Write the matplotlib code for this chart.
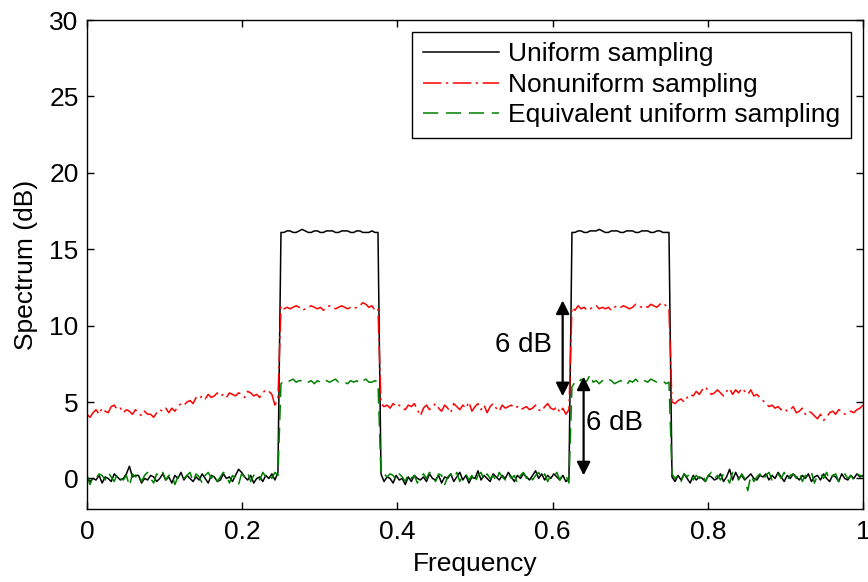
import numpy as np
import matplotlib
matplotlib.use('Agg')
from matplotlib import pyplot as plt

plt.rcParams['font.family'] = ['Liberation Sans', 'DejaVu Sans']
plt.rcParams['font.size'] = 19

# frequency grid (257 bins over [0, 1])
freq = np.arange(257) / 256

uniform = [
    0.1, -0.2, 0.0, -0.1, 0.2, -0.3, 0.1, 0.0, -0.2, 0.3, 0.1, -0.1, 0.0, 0.3, 0.8, 0.1,
    0.2, 0.2, -0.3, 0.0, -0.1, 0.2, 0.1, -0.2, 0.0, 0.3, -0.1, 0.1, -0.3, 0.2, 0.0, 0.4,
    -0.1, 0.2, 0.0, -0.2, 0.1, -0.1, 0.3, 0.0, -0.3, 0.2, 0.1, -0.2, -0.1, 0.3, 0.0, 0.1,
    -0.2, 0.2, 0.6, 0.4, 0.1, -0.1, 0.2, -0.3, 0.0, 0.1, -0.2, 0.2, 0.0, 0.3, -0.1, 0.4,
    16.1, 16.1, 16.2, 16.2, 16.1, 16.1, 16.2, 16.3, 16.2, 16.1, 16.1, 16.2, 16.2, 16.1, 16.1, 16.2,
    16.2, 16.2, 16.1, 16.1, 16.2, 16.2, 16.2, 16.1, 16.1, 16.2, 16.2, 16.1, 16.1, 16.1, 16.2, 16.1,
    16.1, 0.3, -0.2, 0.1, 0.0, -0.3, 0.2, -0.1, 0.0, -0.4, 0.1, -0.2, 0.2, 0.0, -0.1, 0.1,
    -0.2, 0.3, 0.0, -0.1, 0.2, -0.3, 0.1, 0.0, 0.3, -0.2, 0.1, 0.4, -0.1, 0.2, -0.3, 0.1,
    0.0, 0.5, -0.1, 0.2, 0.0, -0.2, 0.3, 0.1, -0.1, 0.2, 0.0, 0.4, 0.1, -0.2, 0.2, 0.0,
    0.3, 0.1, -0.1, 0.2, 0.5, 0.0, 0.3, -0.1, 0.2, 0.0, 0.3, 0.1, -0.1, 0.2, -0.2, 0.0,
    16.1, 16.1, 16.2, 16.2, 16.1, 16.1, 16.2, 16.2, 16.2, 16.3, 16.2, 16.1, 16.1, 16.2, 16.2, 16.2,
    16.1, 16.1, 16.2, 16.2, 16.2, 16.1, 16.1, 16.2, 16.2, 16.2, 16.1, 16.1, 16.2, 16.2, 16.1, 16.1,
    16.1, 0.1, -0.2, 0.2, -0.1, 0.3, 0.0, -0.3, 0.2, -0.1, 0.1, 0.0, -0.2, 0.2, 0.1, -0.1,
    0.0, 0.3, -0.2, 0.1, 0.6, -0.1, 0.4, 0.0, 0.2, -0.1, 0.1, 0.3, 0.0, -0.1, 0.2, 0.1,
    0.3, -0.1, 0.2, 0.0, 0.4, 0.1, -0.2, 0.2, 0.0, 0.3, 0.1, -0.1, 0.2, 0.0, 0.3, -0.2,
    0.1, 0.2, -0.1, 0.3, 0.0, -0.2, 0.2, 0.1, -0.2, 0.3, 0.0, -0.1, 0.2, 0.0, 0.3, 0.1,
    0.2,
]

nonuniform = [
    4.2, 4.0, 4.3, 4.5, 4.2, 4.6, 4.4, 4.3, 4.7, 4.8, 4.5, 4.6, 4.3, 4.5, 4.4, 4.2,
    4.5, 4.3, 4.1, 4.4, 4.2, 4.2, 4.0, 4.3, 4.5, 4.4, 4.6, 4.3, 4.6, 4.4, 4.7, 4.9,
    4.8, 5.0, 5.1, 4.9, 5.3, 5.2, 5.4, 5.2, 5.5, 5.3, 5.4, 5.6, 5.4, 5.5, 5.3, 5.6,
    5.5, 5.4, 5.6, 5.5, 5.3, 5.7, 5.6, 5.4, 5.5, 5.3, 5.6, 5.8, 5.7, 5.5, 4.8, 5.2,
    11.3, 11.1, 11.2, 11.1, 11.2, 11.3, 11.2, 11.0, 11.1, 11.2, 11.3, 11.2, 11.1, 11.2, 11.0, 11.2,
    11.3, 11.2, 11.1, 11.2, 11.3, 11.2, 11.1, 11.2, 11.1, 11.2, 11.3, 11.5, 11.4, 11.2, 11.3, 11.0,
    11.1, 4.9, 4.7, 4.8, 4.6, 4.9, 4.7, 4.8, 4.6, 4.5, 4.8, 4.7, 4.9, 4.5, 4.1, 4.6,
    4.8, 4.5, 4.7, 4.9, 4.6, 4.4, 4.8, 4.6, 4.3, 4.9, 4.7, 4.5, 4.8, 4.6, 5.0, 4.4,
    4.7, 4.9, 4.5, 4.8, 4.3, 4.7, 4.9, 4.6, 4.4, 4.8, 4.6, 4.7, 4.8, 4.6, 4.7, 4.5,
    4.6, 4.7, 4.5, 4.6, 4.8, 4.5, 4.4, 4.7, 4.9, 4.6, 4.5, 4.7, 4.3, 4.6, 4.2, 4.5,
    11.2, 11.0, 11.3, 11.1, 11.2, 11.0, 11.1, 11.2, 11.3, 11.1, 11.2, 11.1, 11.2, 11.0, 11.2, 11.3,
    11.2, 11.3, 11.2, 11.1, 11.2, 11.4, 11.3, 11.2, 11.3, 11.2, 11.4, 11.3, 11.2, 11.4, 11.5, 11.3,
    11.1, 5.0, 4.9, 5.1, 5.2, 5.0, 5.3, 5.5, 5.4, 5.7, 5.5, 5.8, 6.0, 5.7, 5.5, 5.6,
    5.8, 5.6, 5.4, 5.7, 5.9, 5.5, 5.8, 5.6, 5.9, 5.7, 5.5, 5.8, 5.4, 5.5, 5.3, 5.1,
    4.9, 4.7, 4.8, 4.6, 4.7, 4.5, 4.6, 4.4, 4.5, 4.7, 4.3, 4.4, 4.6, 4.2, 4.4, 4.3,
    4.1, 3.9, 4.2, 3.8, 4.0, 4.3, 4.4, 4.2, 4.5, 4.4, 4.2, 4.3, 4.4, 4.3, 4.5, 4.6,
    4.8,
]

equivalent = [
    0.2, -0.4, 0.1, 0.0, 0.3, 0.2, -0.1, 0.4, 0.1, -0.2, 0.3, 0.0, -0.1, 0.2, -0.5, 0.3,
    0.1, 0.3, -0.2, 0.2, 0.4, 0.0, -0.3, 0.3, 0.1, 0.4, -0.1, 0.2, 0.3, -0.4, 0.1, 0.3,
    0.0, 0.2, 0.4, -0.2, 0.3, 0.1, -0.3, 0.2, 0.4, 0.0, 0.3, -0.2, 0.1, 0.4, 0.2, -0.3,
    0.2, 0.0, -0.4, 0.3, 0.1, 0.4, -0.2, 0.2, 0.3, -0.1, 0.4, 0.1, 0.3, 0.0, 0.4, 0.2,
    6.2, 6.4, 6.3, 6.4, 6.5, 6.3, 6.4, 6.4, 6.2, 6.3, 6.4, 6.2, 6.4, 6.3, 6.5, 6.4,
    6.3, 6.4, 6.5, 6.3, 6.4, 6.3, 6.2, 6.4, 6.3, 6.4, 6.2, 6.4, 6.5, 6.3, 6.3, 6.4,
    6.3, 0.2, 0.3, 0.1, 0.3, 0.2, -0.1, 0.3, 0.1, -0.2, 0.3, 0.0, 0.2, -0.3, 0.1, 0.3,
    0.0, 0.4, 0.1, -0.2, 0.3, 0.2, -0.4, 0.1, 0.3, 0.0, 0.4, -0.2, 0.2, 0.3, -0.1, 0.2,
    -0.3, 0.2, 0.4, -0.1, 0.3, 0.0, 0.2, -0.2, 0.4, 0.1, -0.1, 0.3, 0.0, 0.2, -0.3, 0.2,
    0.4, 0.0, 0.3, -0.1, 0.2, 0.4, 0.0, 0.3, -0.2, 0.2, 0.1, 0.4, -0.1, 0.3, 0.2, -0.3,
    6.0, 6.3, 6.2, 6.5, 6.3, 6.4, 6.8, 6.3, 6.4, 6.2, 6.4, 6.3, 6.5, 6.4, 6.2, 6.3,
    6.4, 6.3, 6.1, 6.4, 6.3, 6.5, 6.3, 6.2, 6.4, 6.3, 6.5, 6.4, 6.3, 6.4, 6.4, 6.2,
    6.3, 0.3, 0.0, 0.2, -0.2, 0.3, 0.1, 0.4, -0.1, 0.2, 0.0, 0.3, -0.2, 0.2, 0.4, 0.0,
    0.2, -0.1, 0.3, 0.1, -0.3, 0.4, 0.2, -0.1, 0.3, 0.0, -0.8, 0.2, -0.2, 0.1, 0.3, -0.1,
    0.2, 0.4, -0.1, 0.1, 0.3, 0.0, 0.4, -0.1, 0.2, 0.3, 0.0, 0.4, -0.2, 0.2, 0.1, 0.4,
    -0.3, 0.2, 0.3, 0.0, 0.4, -0.1, 0.2, 0.3, -0.2, 0.1, 0.3, 0.0, 0.2, -0.1, 0.3, 0.2,
    0.1,
]

# 6 dB annotations: (x, y_start, y_end) and text positions
arrows = [(0.613, 11.65, 5.38), (0.640, 6.67, 0.2)]
labels = [(0.562, 8.76, '6 dB'), (0.680, 3.66, '6 dB')]

fig = plt.figure(figsize=(8.68, 5.82), dpi=100)
ax = fig.add_axes([0.1002, 0.1254, 0.894, 0.8402])

ax.plot(freq, uniform, color='k', lw=1.1, label='Uniform sampling')
ax.plot(freq, nonuniform, color='r', lw=1.1, linestyle=(0, (12, 3, 1.5, 3)),
        label='Nonuniform sampling')
ax.plot(freq, equivalent, color=(0, 0.5, 0), lw=1.1, linestyle=(0, (10, 5)),
        label='Equivalent uniform sampling')

for x, y0, y1 in arrows:
    ax.annotate('', xy=(x, y0), xytext=(x, y1),
                arrowprops=dict(arrowstyle='<|-|>', color='k', lw=1.6,
                                mutation_scale=20, shrinkA=0, shrinkB=0))
for x, y, s in labels:
    ax.text(x, y, s, ha='center', va='center', fontsize=20)

ax.set_xlim(0, 1)
ax.set_ylim(-2, 30)
ax.set_xticks([0, 0.2, 0.4, 0.6, 0.8, 1])
ax.set_xticklabels(['0', '0.2', '0.4', '0.6', '0.8', '1'])
ax.set_yticks([0, 5, 10, 15, 20, 25, 30])
ax.tick_params(direction='in', length=5, width=1, top=True, right=True)
ax.tick_params(axis='x', pad=8)
ax.tick_params(axis='y', pad=6)
for sp in ax.spines.values():
    sp.set_linewidth(1.0)
ax.set_xlabel('Frequency', labelpad=6)
ax.set_ylabel('Spectrum (dB)', labelpad=8)

leg = ax.legend(loc='upper right', fancybox=False, framealpha=1, edgecolor='k',
                handlelength=2.9, handletextpad=0.35, labelspacing=0.24,
                borderaxespad=0.45, borderpad=0.4)
leg.get_frame().set_linewidth(1.0)

fig.savefig('out.png', dpi=100)
